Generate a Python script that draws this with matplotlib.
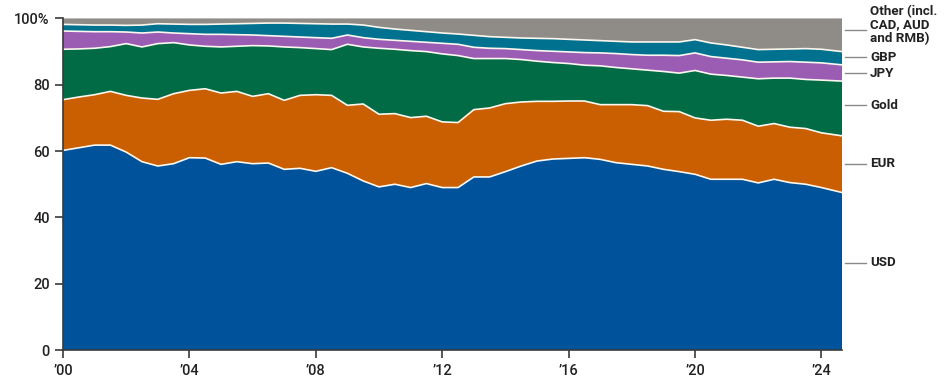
import numpy as np
import matplotlib.pyplot as plt

plt.rcParams['font.family'] = ['Roboto', 'DejaVu Sans']

# Zeitachse (Halbjahre, letzter Punkt Mitte/Ende 2024)
years = [2000.0, 2000.5, 2001.0, 2001.5, 2002.0, 2002.5, 2003.0, 2003.5, 2004.0, 2004.5,
         2005.0, 2005.5, 2006.0, 2006.5, 2007.0, 2007.5, 2008.0, 2008.5, 2009.0, 2009.5,
         2010.0, 2010.5, 2011.0, 2011.5, 2012.0, 2012.5, 2013.0, 2013.5, 2014.0, 2014.5,
         2015.0, 2015.5, 2016.0, 2016.5, 2017.0, 2017.5, 2018.0, 2018.5, 2019.0, 2019.5,
         2020.0, 2020.5, 2021.0, 2021.5, 2022.0, 2022.5, 2023.0, 2023.5, 2024.0, 2024.65]

# Anteile in %
usd = [60.2, 61.0, 61.8, 61.8, 59.7, 56.8, 55.5, 56.2, 58.0, 57.9,
       56.0, 56.8, 56.2, 56.4, 54.5, 54.8, 53.9, 55.0, 53.3, 51.0,
       49.2, 50.0, 49.0, 50.2, 49.0, 49.0, 52.2, 52.2, 53.8, 55.5,
       57.0, 57.6, 57.8, 58.0, 57.5, 56.5, 56.0, 55.5, 54.5, 53.8,
       53.0, 51.5, 51.5, 51.5, 50.4, 51.5, 50.5, 50.0, 49.0, 47.5]
eur = [15.3, 15.3, 15.2, 16.2, 17.1, 19.2, 20.1, 21.1, 20.3, 20.9,
       21.5, 21.2, 20.3, 20.9, 20.8, 22.0, 23.1, 21.8, 20.5, 23.2,
       21.9, 21.3, 21.1, 20.3, 19.8, 19.6, 20.3, 20.8, 20.5, 19.3,
       18.0, 17.4, 17.3, 17.1, 16.5, 17.5, 18.0, 18.2, 17.5, 18.1,
       17.0, 17.8, 18.1, 17.8, 17.1, 16.8, 16.7, 16.8, 16.5, 17.1]
gold = [15.2, 14.5, 14.0, 13.5, 15.6, 15.4, 16.8, 15.4, 13.7, 12.8,
        13.9, 13.6, 15.3, 14.4, 16.1, 14.4, 13.9, 13.8, 18.4, 17.2,
        19.9, 19.4, 20.2, 19.5, 20.5, 20.2, 15.4, 14.9, 13.6, 12.8,
        12.1, 11.7, 11.3, 10.8, 11.7, 11.2, 10.8, 10.7, 12.0, 11.6,
        14.3, 13.9, 13.2, 13.0, 14.3, 13.7, 14.8, 14.8, 15.9, 16.5]
jpy = [5.5, 5.3, 5.0, 4.5, 3.5, 4.2, 3.5, 2.9, 3.4, 3.6,
       3.8, 3.5, 3.2, 3.1, 3.2, 3.2, 3.3, 3.4, 2.8, 2.8,
       2.7, 2.7, 2.8, 2.8, 3.2, 3.4, 3.4, 3.1, 3.0, 3.0,
       3.2, 3.4, 3.5, 3.8, 3.9, 4.2, 4.3, 4.5, 4.9, 5.3,
       5.3, 5.3, 5.2, 5.2, 5.0, 4.9, 5.0, 5.2, 5.2, 4.9]
gbp = [2.0, 2.0, 2.0, 2.0, 2.0, 2.4, 2.5, 2.7, 2.8, 3.0,
       3.1, 3.3, 3.5, 3.8, 4.0, 4.1, 4.2, 4.3, 3.3, 3.8,
       3.6, 3.4, 3.3, 3.2, 3.1, 3.1, 3.6, 3.5, 3.4, 3.5,
       3.7, 3.8, 3.8, 3.8, 3.7, 3.7, 3.8, 4.0, 4.0, 4.1,
       4.0, 4.1, 4.0, 3.8, 3.8, 3.8, 3.8, 4.1, 4.1, 4.0]
other = [1.8, 1.9, 2.0, 2.0, 2.1, 2.0, 1.6, 1.7, 1.8, 1.8,
         1.7, 1.6, 1.5, 1.4, 1.4, 1.5, 1.6, 1.7, 1.7, 2.0,
         2.7, 3.2, 3.6, 4.0, 4.4, 4.7, 5.1, 5.5, 5.7, 5.9,
         6.0, 6.1, 6.3, 6.5, 6.7, 6.9, 7.1, 7.1, 7.1, 7.1,
         6.4, 7.4, 8.0, 8.7, 9.4, 9.3, 9.2, 9.1, 9.3, 10.0]

namen = ['USD', 'EUR', 'Gold', 'JPY', 'GBP', 'Other (incl.\nCAD, AUD\nand RMB)']
farben = ['#00529b', '#c95f00', '#006b45', '#9b5cb4', '#00718e', '#8f8c88']
# Position der Hinweislinien und Beschriftungen rechts (in %)
linie_y = [26.4, 56.2, 73.8, 83.5, 88.3, 96.4]
text_y = [26.4, 56.2, 73.8, 83.5, 88.3, 98.0]

serien = np.array([usd, eur, gold, jpy, gbp, other])

fig = plt.figure(figsize=(9.46, 3.92), dpi=100)
ax = fig.add_axes([0.0666, 0.107, 0.8235, 0.846])

ax.stackplot(years, serien, colors=farben, linewidth=0)

# weiße Trennlinien zwischen den Flächen
kum = np.cumsum(serien, axis=0)
for k in range(len(namen) - 1):
    ax.plot(years, kum[k], color='#fbf7ee', linewidth=1.2)

ax.set_xlim(years[0], years[-1])
ax.set_ylim(0, 100)

ax.set_yticks([0, 20, 40, 60, 80, 100])
ax.set_yticklabels(['0', '20', '40', '60', '80', '100%'])
jahre = [2000, 2004, 2008, 2012, 2016, 2020, 2024]
ax.set_xticks(jahre)
ax.set_xticklabels(['\u2019' + str(j)[2:] for j in jahre])

for s in ['top', 'right']:
    ax.spines[s].set_visible(False)
for s in ['left', 'bottom']:
    ax.spines[s].set_color('#3a3a3a')
    ax.spines[s].set_linewidth(1.2)
ax.tick_params(axis='both', colors='#3a3a3a', length=6, width=1.2,
               labelsize=10.5, labelcolor='#222222')
ax.tick_params(axis='x', pad=4)
for lab in ax.get_xticklabels() + ax.get_yticklabels():
    lab.set_fontweight('medium')

# Beschriftungen rechts mit Hinweislinien
trans = ax.get_yaxis_transform()
for name, yl, yt in zip(namen, linie_y, text_y):
    ax.plot([1.004, 1.031], [yl, yl], transform=trans, color='#8a8a8a',
            linewidth=1.0, clip_on=False)
    ax.text(1.036, yt, name, transform=trans, va='center', ha='left',
            fontsize=9.6, color='#222222', fontweight='semibold',
            linespacing=1.05)

fig.savefig('out.png', dpi=100)
